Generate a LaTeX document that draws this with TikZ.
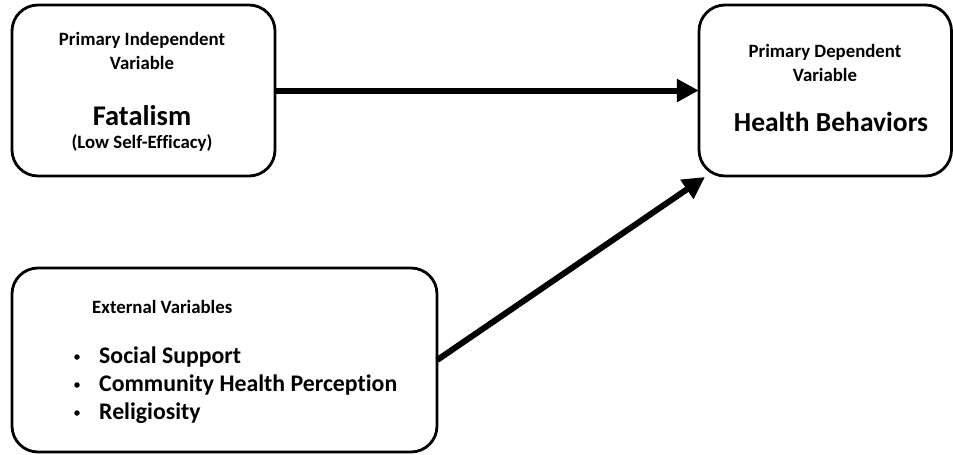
\documentclass[tikz,border=0pt]{standalone}
\usepackage{fontspec}
\setmainfont[Ligatures=NoCommon]{Carlito}
\usetikzlibrary{arrows.meta}
\begin{document}
\begin{tikzpicture}[x=1pt,y=-1pt,
  box/.style={draw, line width=2.8pt, rounded corners=26pt, inner sep=0pt},
  lbl/.style={font=\bfseries\fontsize{18.8}{22}\selectfont, inner sep=0pt, align=center},
  big/.style={font=\bfseries\fontsize{28.5}{32}\selectfont, inner sep=0pt},
  item/.style={font=\bfseries\fontsize{23.8}{28}\selectfont, inner sep=0pt, anchor=west},
  conn/.style={line width=6pt, -{Triangle[length=22pt,width=22pt]}}]
\useasboundingbox (0,0) rectangle (953,455);
\path[fill=white] (0,0) rectangle (953,455);
% boxes
\draw[box] (12,5) rectangle (275,176);
\node (b1) at (143.5,90.5) [minimum width=263pt, minimum height=171pt, inner sep=0pt] {};
\draw[box] (699,5) rectangle (951.5,176);
\node (b2) at (825,90.5) [minimum width=252pt, minimum height=171pt, inner sep=0pt] {};
\draw[box] (12,268) rectangle (437,452);
\node (b3) at (224.5,360) [minimum width=425pt, minimum height=184pt, inner sep=0pt] {};
% texts box 1
\node[lbl] (t1a) at (142,40) {Primary Independent};
\node[lbl] (t1b) at (142,63) {Variable};
\node[big] (t1c) at (142,116) {Fatalism};
\node[lbl] (t1d) at (142,143) {(Low Self-Efficacy)};
% texts box 2
\node[lbl] (t2a) at (825,52) {Primary Dependent};
\node[lbl] (t2b) at (825,75) {Variable};
\node[big, font=\bfseries\fontsize{27.5}{32}\selectfont] (t2c) at (831,122) {Health Behaviors};
% texts box 3
\node[lbl, anchor=west] (t3a) at (92,307) {External Variables};
\node[item] (i1) at (99,357) {Social Support};
\node[item] (i2) at (99,385) {Community Health Perception};
\node[item] (i3) at (99,413) {Religiosity};
\foreach \yy/\nm in {357/d1,385/d2,413/d3}
  \node[circle, fill=black, inner sep=0pt, minimum size=5.5pt] (\nm) at (77,\yy) {};
% connectors
\coordinate (tip2) at (705,177);
\draw[conn] (b1.east) -- (b2.west);
\draw[conn] (b3.east) -- (tip2);
\end{tikzpicture}
\end{document}
